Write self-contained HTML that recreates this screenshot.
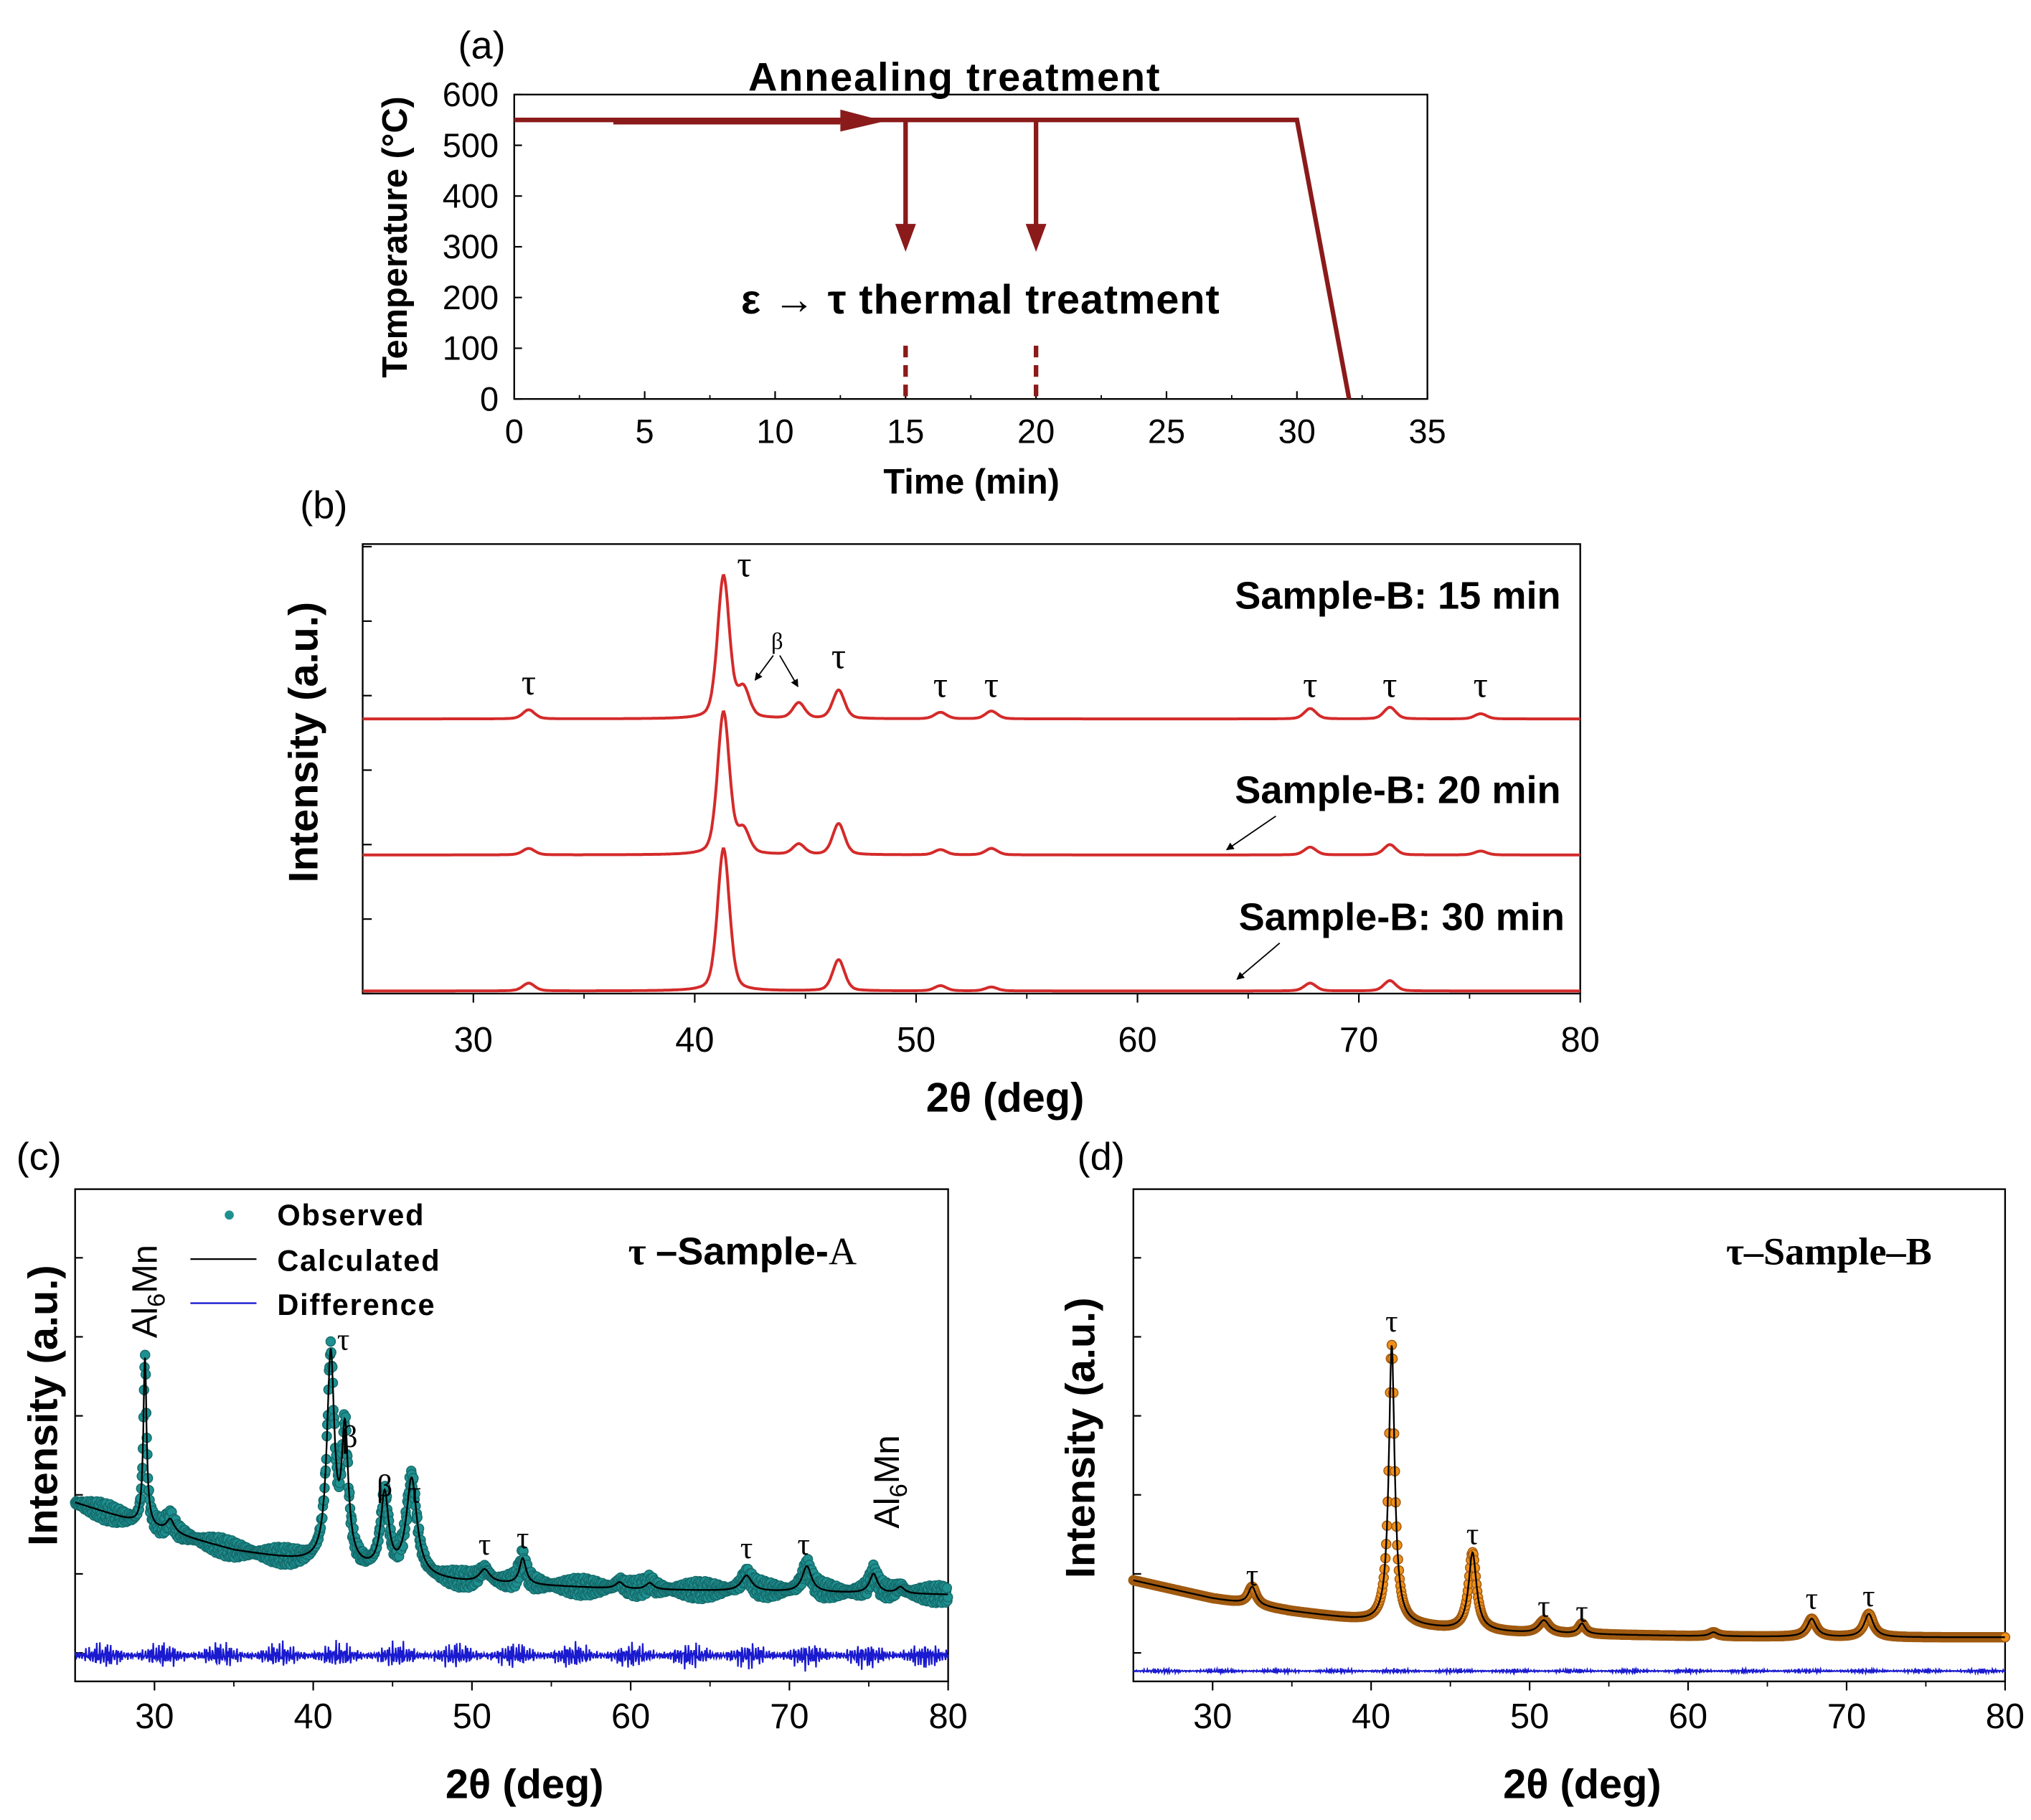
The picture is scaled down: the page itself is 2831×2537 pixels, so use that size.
<!DOCTYPE html>
<html><head><meta charset="utf-8">
<style>
html,body{margin:0;padding:0;background:#fff}
svg{display:block}
text{font-family:"Liberation Sans",sans-serif;fill:#000}
.b{font-weight:bold}
.serif{font-family:"Liberation Serif",serif}
</style></head>
<body>
<svg id="fig" width="2831" height="2537" viewBox="0 0 1568 1405" preserveAspectRatio="none" xmlns="http://www.w3.org/2000/svg">
<rect x="0" y="0" width="1568" height="1405" fill="#fff"/>
<defs>
<marker id="ah" viewBox="0 0 10 10" refX="9" refY="5" markerWidth="6" markerHeight="6" orient="auto"><path d="M0,0 L10,5 L0,10 z" fill="#000"/></marker>
</defs>
<g id="pa"></g>
<g id="pb"></g>
<g id="pc"></g>
<g id="pd"></g>
</svg>
<script>
// ---------- Panel (a) data ----------
const aTimeTicks = [0,5,10,15,20,25,30,35];
const aTempTicks = [0,100,200,300,400,500,600];
const aProfileTime = [0,30,32];
const aProfileTemp = [550,550,0];
const aQuenchTimes = [15,20];

// ---------- Panel (b) data ----------
const bTicks = [30,40,50,60,70,80];
const bSamples = ["Sample-B: 15 min","Sample-B: 20 min","Sample-B: 30 min"];
const bPeakPos15 = [32.5,41.3,42.2,44.7,46.5,51.1,53.4,67.8,71.4,75.5];
const bPeakH15   = [7,110,22,12,22,5,6,8,9,4];
const bPeakPos20 = [32.5,41.3,42.2,44.7,46.5,51.1,53.4,67.8,71.4,75.5];
const bPeakH20   = [5,110,18,8,24,4,5,6,8,3];
const bPeakPos30 = [32.5,41.3,46.5,51.1,53.4,67.8,71.4];
const bPeakH30   = [6,110,24,4,3,6,8];
const bPeakW     = 0.32;

// ---------- Panel (c) data ----------
const cTicks = [30,40,50,60,70,80];
const cBgX = [25,30,35,40,45,50,60,70,80];
const cBgY = [105,85,68,58,48,43,38,36,34];
const cPeakPos = [29.4,31.0,41.1,42.0,44.5,46.2,50.8,53.2,59.3,61.2,67.3,71.1,75.3,77.0];
const cPeakH   = [130,10,160,100,60,75,10,20,5,5,12,20,15,5];
const cPeakW   = [0.12,0.3,0.28,0.25,0.3,0.4,0.4,0.25,0.3,0.3,0.4,0.35,0.3,0.3];

// ---------- Panel (d) data ----------
const dTicks = [30,40,50,60,70,80];
const dBgX = [25,30,35,40,45,50,60,70,80];
const dBgY = [52,38,28,20,14,11,9,8,8];
const dPeakPos = [32.5,41.3,46.4,50.9,53.3,61.6,67.8,71.4];
const dPeakH   = [14,215,60,10,8,3,14,18];
const dPeakW   = [0.3,0.22,0.3,0.4,0.25,0.3,0.35,0.35];

const NS = "http://www.w3.org/2000/svg";
function mk(parent, tag, attrs, txt){
  const e = document.createElementNS(NS, tag);
  for (const k in attrs) e.setAttribute(k, attrs[k]);
  if (txt !== undefined) e.textContent = txt;
  parent.appendChild(e);
  return e;
}
function lin(d0,d1,r0,r1){ return v => r0 + (v-d0)*(r1-r0)/(d1-d0); }
function interp(xs, ys, x){
  if (x <= xs[0]) return ys[0];
  for (let i=1;i<xs.length;i++) if (x <= xs[i]){ const t=(x-xs[i-1])/(xs[i]-xs[i-1]); return ys[i-1]+t*(ys[i]-ys[i-1]); }
  return ys[ys.length-1];
}
function lor(x, pos, h, w){ let s=0; for (let i=0;i<pos.length;i++){ const ww = Array.isArray(w)?w[i]:w; const u=(x-pos[i])/ww; s += h[i]/(1+u*u);} return s; }
function pv(x, pos, h, w){ let s=0; for (let i=0;i<pos.length;i++){ const u=(x-pos[i])/w; s += h[i]*(0.65*Math.exp(-0.693*u*u)+0.35/(1+u*u));} return s; }

function box(g, x0,y0,x1,y1){
  const r = mk(g,'rect',{x:x0,y:y0,width:x1-x0,height:y1-y0,fill:'none',stroke:'#000','stroke-width':1.3});
  
  
}
function xAxis(g, ticks, sx, y, labelY, minorStep, fs){
  ticks.forEach((t,i)=>{
    mk(g,'line',{x1:sx(t),x2:sx(t),y1:y,y2:y+7,stroke:'#000','stroke-width':1.2});
    const tl = mk(g,'text',{x:sx(t),y:labelY,'text-anchor':'middle','font-size':fs},String(t));
    
    
    if (minorStep && i<ticks.length-1){ mk(g,'line',{x1:sx(t+minorStep),x2:sx(t+minorStep),y1:y,y2:y+4,stroke:'#000','stroke-width':1}); }
  });
}

// ================= Panel (a) =================
(function(){
  const g = document.getElementById('pa');
  const X0=397,X1=1102,Y0=73,Y1=308;
  const sx = lin(0,35,X0,X1), sy = lin(0,600,Y1,Y0);
  box(g,X0,Y0,X1,Y1);
  aTimeTicks.forEach((t,i)=>{
    mk(g,'line',{x1:sx(t),x2:sx(t),y1:Y1,y2:Y1-6,stroke:'#000','stroke-width':1.2});
    if (i<aTimeTicks.length-1) mk(g,'line',{x1:sx(t+2.5),x2:sx(t+2.5),y1:Y1,y2:Y1-3,stroke:'#000'});
    const tl = mk(g,'text',{x:sx(t),y:342,'text-anchor':'middle','font-size':26},String(t));
    
    
  });
  aTempTicks.forEach(t=>{
    mk(g,'line',{x1:X0,x2:X0+6,y1:sy(t),y2:sy(t),stroke:'#000','stroke-width':1.2});
    const tl = mk(g,'text',{x:385,y:sy(t)+9,'text-anchor':'end','font-size':26},String(t));
    
    
  });
  const xt = mk(g,'text',{x:750,y:381,'text-anchor':'middle','font-size':27,class:'b'},'Time (min)');
  
  
  const yt = mk(g,'text',{x:0,y:0,'text-anchor':'middle','font-size':27,class:'b',transform:'translate(314,183) rotate(-90)'},'Temperature (°C)');
  
  
  const pl = mk(g,'text',{x:372,y:45,'text-anchor':'middle','font-size':30},'(a)');
  
  
  const c='#8b1a1a';
  let d=''; aProfileTime.forEach((t,i)=>{ d += (i?'L':'M')+sx(t)+','+sy(aProfileTemp[i]); });
  const p = mk(g,'path',{d:d,fill:'none',stroke:c,'stroke-width':3.5});
  
  
  mk(g,'line',{x1:sx(3.8),x2:sx(12.5),y1:sy(550)+1,y2:sy(550)+1,stroke:c,'stroke-width':5});
  mk(g,'path',{d:`M${sx(12.5)},${sy(550)-8} L${sx(14.2)},${sy(550)+1} L${sx(12.5)},${sy(550)+9} z`,fill:c});
  aQuenchTimes.forEach(t=>{
    const x=sx(t);
    const a = mk(g,'path',{d:`M${x},${sy(550)} L${x},${sy(320)}`,stroke:c,'stroke-width':3.5,fill:'none'});
    
    
    mk(g,'path',{d:`M${x-8},${sy(345)} L${x+8},${sy(345)} L${x},${sy(290)} z`,fill:c});
    mk(g,'line',{x1:x,x2:x,y1:sy(105),y2:sy(5),stroke:c,'stroke-width':3.5,'stroke-dasharray':'9,6'});
  });
  const t1 = mk(g,'text',{x:737,y:70,'text-anchor':'middle','font-size':31,class:'b','letter-spacing':'1'},'Annealing treatment');
  
  
  const t2 = mk(g,'text',{x:757,y:242,'text-anchor':'middle','font-size':32,class:'b','letter-spacing':'0.5'},'ε → τ thermal treatment');
  
  
})();

// ================= Panel (b) =================
(function(){
  const g = document.getElementById('pb');
  const X0=280,X1=1220,Y0=420,Y1=767;
  const sx = lin(25,80,X0,X1);
  box(g,X0,Y0,X1,Y1);
  xAxis(g,bTicks,sx,Y1,812,5,27);
  for (let y=Y1; y>Y0; y-=57.5){ mk(g,'line',{x1:X0,x2:X0+7,y1:y,y2:y,stroke:'#000','stroke-width':1.2}); }
  const xt = mk(g,'text',{x:776,y:858,'text-anchor':'middle','font-size':32,class:'b'},'2θ (deg)');
  
  
  const yt = mk(g,'text',{x:0,y:0,'text-anchor':'middle','font-size':32,class:'b',transform:'translate(245,573) rotate(-90)'},'Intensity (a.u.)');
  
  
  const pl = mk(g,'text',{x:250,y:400,'text-anchor':'middle','font-size':30},'(b)');
  
  
  const bases=[555,660,765];
  const pos=[bPeakPos15,bPeakPos20,bPeakPos30], hs=[bPeakH15,bPeakH20,bPeakH30];
  bases.forEach((b,k)=>{
    let d='';
    for (let x=25; x<=80.001; x+=0.04){ const v=pv(x,pos[k],hs[k],bPeakW); d += (d?'L':'M')+sx(x).toFixed(1)+','+(b-v).toFixed(1); }
    const p = mk(g,'path',{d:d,fill:'none',stroke:'#d42a2a','stroke-width':2.2});
    
    
    const lb = mk(g,'text',{x:[1205,1205,1208][k],y:[470,620,718][k],'text-anchor':'end','font-size':30,class:'b'},bSamples[k]);
    
    
  });
  [[32.5,536],[41.3,445],[46.5,516],[51.1,538],[53.4,538],[67.8,538],[71.4,538],[75.5,538]].forEach(([p,y])=>{
    const t = mk(g,'text',{x:sx(p)+(p===41.3?16:0),y:y,'text-anchor':'middle','font-size':28,class:'serif'},'τ');
    
    
  });
  const bl = mk(g,'text',{x:600,y:501,'text-anchor':'middle','font-size':18,class:'serif'},'β');
  
  
  mk(g,'line',{x1:597,y1:506,x2:583,y2:525,stroke:'#000','marker-end':'url(#ah)'});
  mk(g,'line',{x1:602,y1:506,x2:616,y2:530,stroke:'#000','marker-end':'url(#ah)'});
  mk(g,'line',{x1:985,y1:630,x2:947,y2:656,stroke:'#000','marker-end':'url(#ah)'});
  mk(g,'line',{x1:988,y1:728,x2:955,y2:756,stroke:'#000','marker-end':'url(#ah)'});
})();

// ================= Panels (c), (d) =================
function rietveld(gid, X0,X1, bgX,bgY,pPos,pH,pW, base, ticks, dotFill, dotStroke, diffY, diffAmp, jit, step){
  const g = document.getElementById(gid);
  const Y0=918,Y1=1298;
  const sx = lin(25,80,X0,X1);
  box(g,X0,Y0,X1,Y1);
  xAxis(g,ticks,sx,Y1,1334,5,27);
  for (let y=Y1-22; y>Y0; y-=61){ mk(g,'line',{x1:X0,x2:X0+6,y1:y,y2:y,stroke:'#000','stroke-width':1.2}); }
  const calc = x => interp(bgX,bgY,x)+lor(x,pPos,pH,pW);
  const obs = mk(g,'g',{});
  
  
  for (let x=25; x<=80.001; x+=step){
    const j = jit*(Math.sin(x*53.3)*0.6+Math.sin(x*127.9)*0.4);
    mk(obs,'circle',{cx:sx(x).toFixed(1),cy:(base-calc(x)+j).toFixed(1),r:3.6,fill:dotFill,stroke:dotStroke,'stroke-width':0.8});
  }
  let d='';
  for (let x=25; x<=80.001; x+=0.03){ d += (d?'L':'M')+sx(x).toFixed(1)+','+(base-calc(x)).toFixed(1); }
  const cl = mk(g,'path',{d:d,fill:'none',stroke:'#000','stroke-width':1.3});
  
  
  let dd='';
  for (let x=25; x<=80.001; x+=0.04){
    const v = diffAmp*(Math.sin(x*37.1)*0.4+Math.sin(x*91.7)*0.35+Math.sin(x*213.3)*0.25)*(1+0.6*Math.sin(x*1.7));
    dd += (dd?'L':'M')+sx(x).toFixed(1)+','+(diffY+v).toFixed(1);
  }
  const dl = mk(g,'path',{d:dd,fill:'none',stroke:'#1a1ad0','stroke-width':1.2});
  
  
  const xt = mk(g,'text',{x:(X0+X1)/2+10,y:1388,'text-anchor':'middle','font-size':32,class:'b'},'2θ (deg)');
  
  
  return {g,sx};
}
(function(){
  const {g,sx} = rietveld('pc',58,732,cBgX,cBgY,cPeakPos,cPeakH,cPeakW,1265,cTicks,'#1f9090','#156b6b',1278,8,7,0.035);
  const yt = mk(g,'text',{x:0,y:0,'text-anchor':'middle','font-size':32,class:'b',transform:'translate(44,1085) rotate(-90)'},'Intensity (a.u.)');
  
  
  const pl = mk(g,'text',{x:30,y:903,'text-anchor':'middle','font-size':30},'(c)');
  
  
  mk(g,'circle',{cx:177,cy:938,r:3.5,fill:'#1f9090'});
  mk(g,'line',{x1:147,x2:198,y1:972,y2:972,stroke:'#000','stroke-width':1.3});
  mk(g,'line',{x1:147,x2:198,y1:1006,y2:1006,stroke:'#1a1ad0','stroke-width':1.3});
  [['Observed',946],['Calculated',981],['Difference',1015]].forEach(([t,y])=>{
    const e = mk(g,'text',{x:214,y:y,'font-size':23,class:'b','letter-spacing':'1'},t);
    
    
  });
  const st = mk(g,'text',{x:485,y:976,'font-size':30,class:'b'},'');
  mk(st,'tspan',{class:'serif'},'τ ');
  mk(st,'tspan',{},'–Sample-');
  mk(st,'tspan',{class:'serif','font-weight':'normal'},'A');
  
  
  const al1 = mk(g,'text',{x:0,y:0,'font-size':27,transform:'translate(121,1033) rotate(-90)'},'');
  mk(al1,'tspan',{},'Al');mk(al1,'tspan',{'font-size':19,dy:6},'6');mk(al1,'tspan',{dy:-6},'Mn');
  
  
  const al2 = mk(g,'text',{x:0,y:0,'font-size':27,transform:'translate(694,1180) rotate(-90)'},'');
  mk(al2,'tspan',{},'Al');mk(al2,'tspan',{'font-size':19,dy:6},'6');mk(al2,'tspan',{dy:-6},'Mn');
  
  
  [['τ',41.9,1042],['β',42.3,1117],['β',44.5,1155],['τ',46.4,1160],['τ',50.8,1200],['τ',53.2,1195],['τ',67.3,1203],['τ',70.9,1200]].forEach(([s,p,y])=>{
    const e = mk(g,'text',{x:sx(p),y:y,'text-anchor':'middle','font-size':24,class:'serif'},s);
    
    
  });
})();
(function(){
  const {g,sx} = rietveld('pd',875,1548,dBgX,dBgY,dPeakPos,dPeakH,dPeakW,1272,dTicks,'#f0901a','#a05a10',1290,1.5,0,0.05);
  const yt = mk(g,'text',{x:0,y:0,'text-anchor':'middle','font-size':32,class:'b',transform:'translate(845,1110) rotate(-90)'},'Intensity (a.u.)');
  
  
  const pl = mk(g,'text',{x:850,y:903,'text-anchor':'middle','font-size':30},'(d)');
  
  
  const st = mk(g,'text',{x:1412,y:976,'text-anchor':'middle','font-size':30,class:'serif b'},'τ–Sample–B');
  
  
  [[32.5,1224],[41.3,1028],[46.4,1192],[50.9,1248],[53.3,1252],[67.8,1242],[71.4,1240]].forEach(([p,y])=>{
    const e = mk(g,'text',{x:sx(p),y:y,'text-anchor':'middle','font-size':24,class:'serif'},'τ');
    
    
  });
})();
</script>
</body></html>
